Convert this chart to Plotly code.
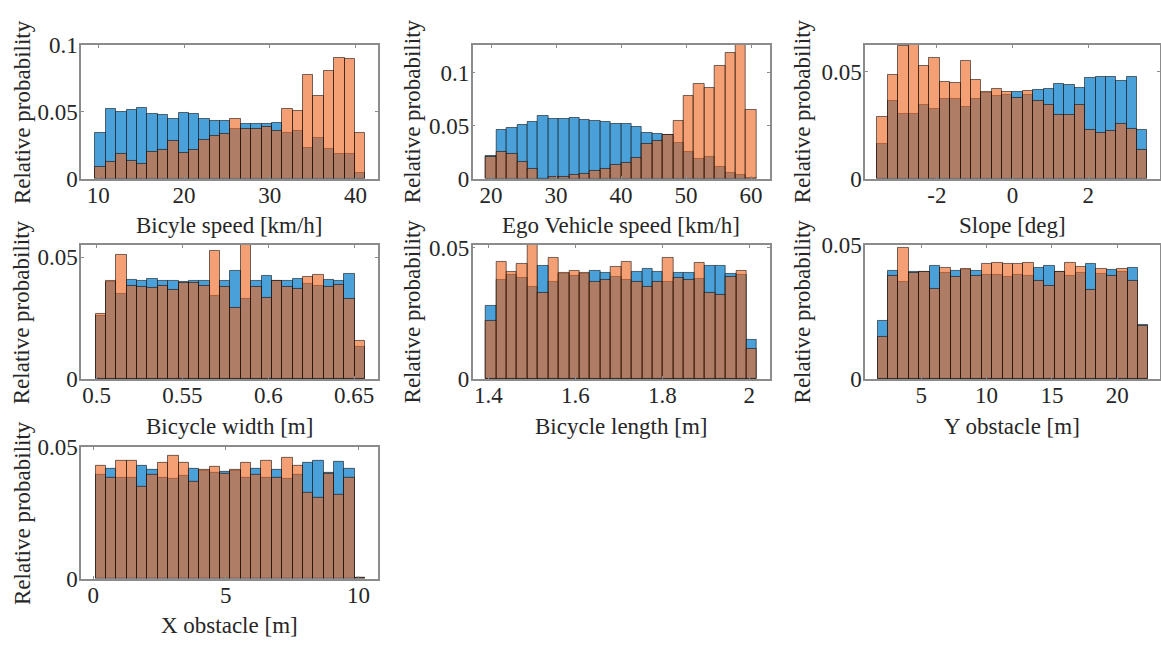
import plotly.graph_objects as go

# ---------------- data (relative probabilities) ----------------
# Panel 1: Bicycle speed [km/h]
bike_speed_bin_start, bike_speed_bin_width = 9.67, 1.2115
bike_speed_blue = [0.0343, 0.052, 0.050, 0.0513, 0.0525, 0.0484, 0.0477, 0.0448, 0.0494, 0.048, 0.0448, 0.0432, 0.0429,
                   0.0374, 0.0408, 0.041, 0.0408, 0.0417, 0.0345, 0.0353, 0.023, 0.0307, 0.022, 0.0182, 0.0182, 0.0043]
bike_speed_orange = [0.0086, 0.0122, 0.0182, 0.0132, 0.0106, 0.0199, 0.0213, 0.0285, 0.0194, 0.0211, 0.0288, 0.0317, 0.0336,
                     0.0446, 0.0369, 0.0369, 0.0386, 0.036, 0.052, 0.0506, 0.0775, 0.0616, 0.0808, 0.0906, 0.0897, 0.0343]

# Panel 2: Ego Vehicle speed [km/h]
ego_speed_bin_start, ego_speed_bin_width = 19.23, 1.6
ego_speed_blue = [0.021, 0.0459, 0.0477, 0.0508, 0.0535, 0.0586, 0.0565, 0.0562, 0.0568, 0.0553, 0.0541, 0.0532, 0.0517,
                  0.0514, 0.0489, 0.0432, 0.0423, 0.041, 0.0338, 0.0248, 0.0187, 0.0208, 0.0112, 0.0057, 0.003, 0.0006]
ego_speed_orange = [0.0205, 0.0254, 0.023, 0.0157, 0.0091, 0.0, 0.0015, 0.002, 0.0036, 0.0048, 0.0073, 0.0091, 0.0133,
                    0.0145, 0.019, 0.0323, 0.0353, 0.0414, 0.0544, 0.0776, 0.0894, 0.0852, 0.1066, 0.1187, 0.126, 0.065]

# Panel 3: Slope [deg]
slope_bin_start, slope_bin_width = -3.57, 0.2745
slope_blue = [0.0164, 0.0363, 0.0303, 0.0303, 0.0344, 0.0324, 0.0374, 0.0375, 0.0335, 0.0375, 0.0401, 0.0387, 0.0392,
              0.0408, 0.039, 0.0416, 0.0422, 0.0443, 0.044, 0.0423, 0.047, 0.0477, 0.0477, 0.0458, 0.0477, 0.0228]
slope_orange = [0.0291, 0.0485, 0.0619, 0.0626, 0.0529, 0.0565, 0.0453, 0.045, 0.0551, 0.0461, 0.0405, 0.0419, 0.0408,
                0.0378, 0.041, 0.0363, 0.0345, 0.0296, 0.0296, 0.0345, 0.023, 0.0215, 0.0221, 0.0255, 0.0231, 0.0132]

# Panel 4: Bicycle width [m]
bike_width_bin_start, bike_width_bin_width = 0.4994, 0.00604
bike_width_blue = [0.026, 0.0398, 0.0348, 0.0406, 0.0405, 0.0412, 0.0405, 0.0405, 0.04, 0.0404, 0.0405, 0.0342, 0.0405,
                   0.0443, 0.0328, 0.0405, 0.0425, 0.0401, 0.0404, 0.0413, 0.0389, 0.0381, 0.0406, 0.0405, 0.0433, 0.0132]
bike_width_orange = [0.0269, 0.0402, 0.0508, 0.0384, 0.0377, 0.0376, 0.0384, 0.0368, 0.0393, 0.0393, 0.0384, 0.0525, 0.0377,
                     0.0294, 0.0551, 0.0377, 0.0335, 0.0401, 0.0377, 0.037, 0.042, 0.0429, 0.0377, 0.0385, 0.033, 0.0157]

# Panel 5: Bicycle length [m]
bike_length_bin_start, bike_length_bin_width = 1.394, 0.024
bike_length_blue = [0.0278, 0.0378, 0.0394, 0.0383, 0.0349, 0.0429, 0.0371, 0.04, 0.0393, 0.04, 0.041, 0.0405, 0.0388,
                    0.0378, 0.0409, 0.042, 0.0409, 0.0371, 0.0404, 0.0404, 0.0382, 0.0429, 0.0432, 0.04, 0.0394, 0.0149]
bike_length_orange = [0.0221, 0.0444, 0.0409, 0.0437, 0.051, 0.0327, 0.0459, 0.0402, 0.0411, 0.0402, 0.037, 0.0376, 0.0426,
                      0.0444, 0.0371, 0.0352, 0.0371, 0.046, 0.0385, 0.0378, 0.0443, 0.0328, 0.032, 0.0388, 0.041, 0.0115]

# Panel 6: Y obstacle [m]
y_obstacle_bin_start, y_obstacle_bin_width = 1.66, 0.797
y_obstacle_blue = [0.0218, 0.0404, 0.0361, 0.04, 0.04, 0.0423, 0.0396, 0.0403, 0.0407, 0.0403, 0.0388, 0.0388, 0.0382,
                   0.0388, 0.0383, 0.0413, 0.0423, 0.0398, 0.0383, 0.0395, 0.0428, 0.0391, 0.0407, 0.0401, 0.0414, 0.0203]
y_obstacle_orange = [0.0156, 0.0385, 0.0488, 0.0396, 0.0401, 0.0337, 0.0416, 0.038, 0.0411, 0.0386, 0.0428, 0.0434, 0.0428,
                     0.0428, 0.0434, 0.0365, 0.0346, 0.0401, 0.0434, 0.0417, 0.0331, 0.0411, 0.0385, 0.0411, 0.0364, 0.0197]

# Panel 7: X obstacle [m]
x_obstacle_bin_start, x_obstacle_bin_width = 0.088, 0.391
x_obstacle_blue = [0.0395, 0.0415, 0.0384, 0.0384, 0.0429, 0.0411, 0.0384, 0.038, 0.0389, 0.0416, 0.0409, 0.0401, 0.0405,
                   0.0408, 0.0384, 0.0415, 0.0384, 0.0411, 0.038, 0.0395, 0.0438, 0.0448, 0.0403, 0.0442, 0.0415, 0.0003]
x_obstacle_orange = [0.0426, 0.0384, 0.0448, 0.0448, 0.0349, 0.0393, 0.044, 0.0466, 0.044, 0.0366, 0.0414, 0.0423, 0.0399,
                     0.0414, 0.044, 0.0392, 0.0448, 0.0382, 0.0459, 0.0426, 0.0326, 0.0307, 0.0399, 0.0318, 0.0383, 0.0003]

# axis titles and ticks
x_titles = ["Bicyle speed [km/h]", "Ego Vehicle speed [km/h]", "Slope [deg]",
            "Bicycle width [m]", "Bicycle length [m]", "Y obstacle [m]", "X obstacle [m]"]
y_title = "Relative probability"
x_tickvals = [[10, 20, 30, 40], [20, 30, 40, 50, 60], [-2, 0, 2], [0.5, 0.55, 0.6, 0.65],
              [1.4, 1.6, 1.8, 2.0], [5, 10, 15, 20], [0, 5, 10]]
x_ticktext = [["10", "20", "30", "40"], ["20", "30", "40", "50", "60"], ["-2", "0", "2"],
              ["0.5", "0.55", "0.6", "0.65"], ["1.4", "1.6", "1.8", "2"], ["5", "10", "15", "20"], ["0", "5", "10"]]
y_tickvals = [[0, 0.05, 0.1], [0, 0.05, 0.1], [0, 0.05], [0, 0.05], [0, 0.05], [0, 0.05], [0, 0.05]]
y_ticktext = [["0", "0.05", "0.1"], ["0", "0.05", "0.1"], ["0", "0.05"], ["0", "0.05"], ["0", "0.05"], ["0", "0.05"], ["0", "0.05"]]
x_ranges = [[7.98, 42.64], [17.18, 62.92], [-3.90, 3.886], [0.4909, 0.6639], [1.3638, 2.0477], [0.695, 23.23], [-0.465, 10.74]]
y_ranges = [[0, 0.1], [0, 0.126], [0, 0.0626], [0, 0.0551], [0, 0.051], [0, 0.05], [0, 0.05]]

panels = [
    (bike_speed_bin_start, bike_speed_bin_width, bike_speed_blue, bike_speed_orange),
    (ego_speed_bin_start, ego_speed_bin_width, ego_speed_blue, ego_speed_orange),
    (slope_bin_start, slope_bin_width, slope_blue, slope_orange),
    (bike_width_bin_start, bike_width_bin_width, bike_width_blue, bike_width_orange),
    (bike_length_bin_start, bike_length_bin_width, bike_length_blue, bike_length_orange),
    (y_obstacle_bin_start, y_obstacle_bin_width, y_obstacle_blue, y_obstacle_orange),
    (x_obstacle_bin_start, x_obstacle_bin_width, x_obstacle_blue, x_obstacle_orange),
]

# ---------------- layout geometry ----------------
W, H = 1161, 648
col_px = [(81, 378), (472.7, 770), (865, 1159.5)]
ytitle_px = [22.3, 412.5, 802.5]
row_px = [(34.3, 173.3), (242.3, 381.7), (452.3, 589.3)]

FONT = "Liberation Serif, Times New Roman, serif"
FS = 23
BLUE = "rgb(74,160,216)"
ORANGE = "rgba(237,102,31,0.62)"
EDGE = "rgba(0,0,0,0.55)"
AXC = "#8c8c8c"

fig = go.Figure()
annotations = []
layout_axes = {}

for k, (start, width, blue, orange) in enumerate(panels):
    idx = k + 1
    r, c = divmod(k, 3)
    x0, x1 = col_px[c]
    top, bot = row_px[r]
    centers = [start + width * (i + 0.5) for i in range(len(blue))]
    xa = "x" if idx == 1 else f"x{idx}"
    ya = "y" if idx == 1 else f"y{idx}"
    fig.add_trace(go.Bar(x=centers, y=blue, width=width, marker=dict(color=BLUE, line=dict(color=EDGE, width=1)),
                         xaxis=xa, yaxis=ya, showlegend=False))
    fig.add_trace(go.Bar(x=centers, y=orange, width=width, marker=dict(color=ORANGE, line=dict(color=EDGE, width=1)),
                         xaxis=xa, yaxis=ya, showlegend=False))
    common = dict(showline=True, linecolor=AXC, linewidth=1.5, mirror="ticks", ticks="inside", ticklen=3,
                  tickcolor=AXC, tickwidth=1, showgrid=False, zeroline=False,
                  tickfont=dict(family=FONT, size=FS, color="#262626"))
    layout_axes["xaxis" if idx == 1 else f"xaxis{idx}"] = dict(
        domain=[x0 / W, x1 / W], anchor=ya, range=x_ranges[k], tickvals=x_tickvals[k], ticktext=x_ticktext[k],
        ticklabelstandoff=-5, **common)
    layout_axes["yaxis" if idx == 1 else f"yaxis{idx}"] = dict(
        domain=[1 - bot / H, 1 - top / H], anchor=xa, range=y_ranges[k], tickvals=y_tickvals[k], ticktext=y_ticktext[k],
        ticklabelstandoff=-3, **common)
    annotations.append(dict(text=x_titles[k], xref="paper", yref="paper", x=(x0 + x1) / 2 / W, y=1 - (bot + 49) / H,
                            xanchor="center", yanchor="middle", showarrow=False,
                            font=dict(family=FONT, size=FS, color="#262626")))
    annotations.append(dict(text=y_title, xref="paper", yref="paper", x=ytitle_px[c] / W, y=1 - (top + bot) / 2 / H,
                            xanchor="center", yanchor="middle", textangle=-90, showarrow=False,
                            font=dict(family=FONT, size=FS, color="#262626")))

fig.update_layout(width=W, height=H, margin=dict(l=0, r=0, t=0, b=0), paper_bgcolor="white", plot_bgcolor="white",
                  barmode="overlay", bargap=0, annotations=annotations, **layout_axes)

fig.write_html("out.html")
